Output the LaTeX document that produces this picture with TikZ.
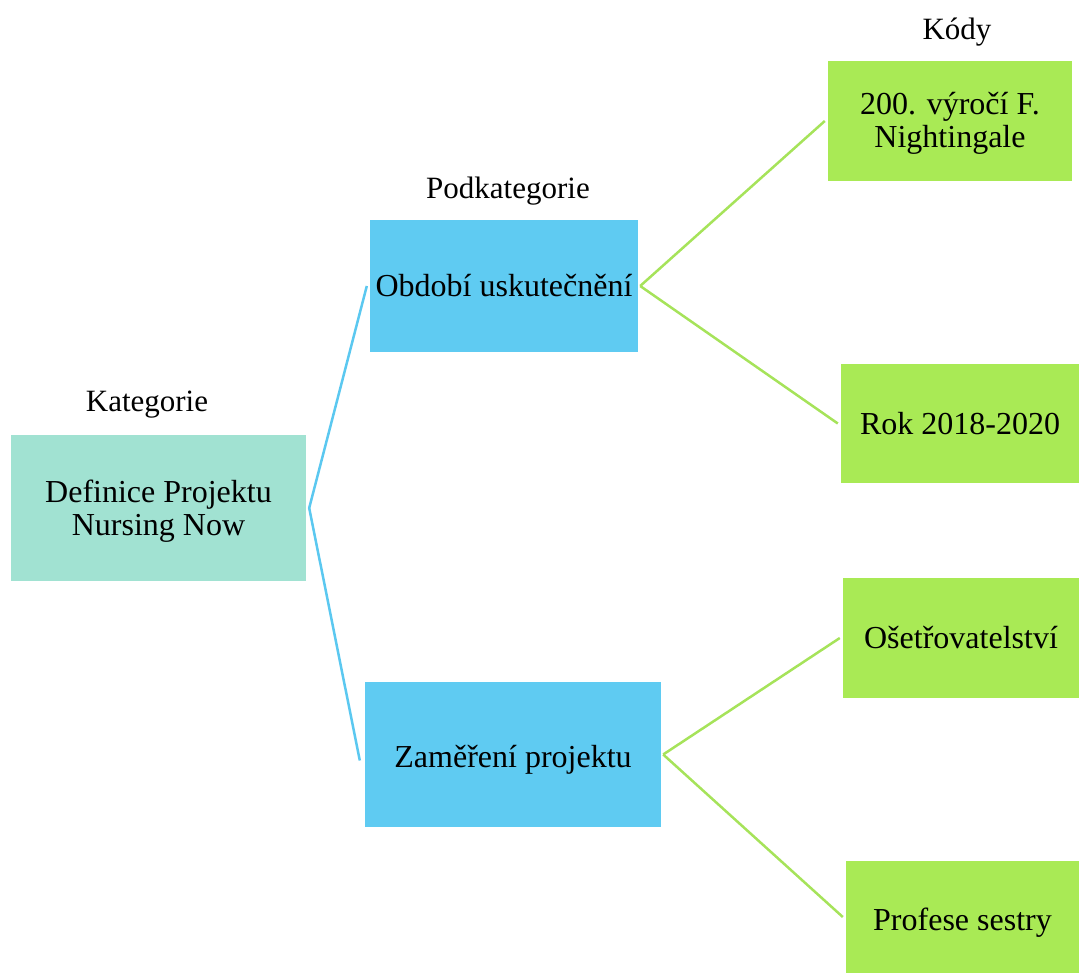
\documentclass[tikz,border=0pt]{standalone}
\usepackage{fontspec}
\setmainfont{Liberation Serif}
\definecolor{katfill}{HTML}{A1E2D2}
\definecolor{podfill}{HTML}{5FCBF2}
\definecolor{kodfill}{HTML}{A9EA55}
\definecolor{blueline}{HTML}{5BC8F0}
\definecolor{greenline}{HTML}{A6E35A}
\newcommand{\lowerby}[2]{\raisebox{-#1}[\height][\depth]{#2}}
\tikzset{
  box/.style={rectangle, inner sep=0pt, align=center, font=\fontsize{32}{34}\selectfont},
  katbox/.style={box, fill=katfill},
  podbox/.style={box, fill=podfill},
  kodbox/.style={box, fill=kodfill},
  hdr/.style={anchor=base, inner sep=0pt, font=\fontsize{31}{34}\selectfont},
  bconn/.style={draw=blueline, line width=2.5pt},
  gconn/.style={draw=greenline, line width=2.5pt},
}
\begin{document}
\begin{tikzpicture}[x=1pt,y=-1pt]
\useasboundingbox (0,0) rectangle (1079,973);
% headers
\node[hdr] (hkat) at (147,412) {Kategorie};
\node[hdr] (hpod) at (508,199) {Podkategorie};
\node[hdr] (hkod) at (957,40) {Kódy};
% boxes
\node[katbox, minimum width=295pt, minimum height=146pt] (kat) at (158.5,508) {\lowerby{4pt}{\begin{tabular}{@{}c@{}}Definice Projektu\\[-1pt]Nursing Now\end{tabular}}};
\node[podbox, minimum width=268pt, minimum height=132pt] (ob) at (504,286) {Období uskutečnění};
\node[podbox, minimum width=296pt, minimum height=145pt] (zam) at (513,754.5) {\lowerby{5pt}{Zaměření projektu}};
\node[kodbox, minimum width=244pt, minimum height=120pt] (k1) at (950,121) {\lowerby{3pt}{\begin{tabular}{@{}c@{}}200. výročí F.\\[-1pt]Nightingale\end{tabular}}};
\node[kodbox, minimum width=238pt, minimum height=119pt] (k2) at (960,423.5) {Rok 2018-2020};
\node[kodbox, minimum width=236pt, minimum height=120pt] (k3) at (961,638) {Ošetřovatelství};
\node[kodbox, minimum width=233pt, minimum height=112pt] (k4) at (962.5,917) {\lowerby{6pt}{Profese sestry}};
% connectors
\draw[bconn] ([xshift=3pt]kat.east) -- ([xshift=-3pt]ob.west);
\draw[bconn] ([xshift=3pt]kat.east) -- ([xshift=-5pt,yshift=-6pt]zam.west);
\draw[gconn] ([xshift=2pt]ob.east) -- ([xshift=-3pt]k1.west);
\draw[gconn] ([xshift=2pt]ob.east) -- ([xshift=-3pt]k2.west);
\draw[gconn] ([xshift=2pt]zam.east) -- ([xshift=-3pt]k3.west);
\draw[gconn] ([xshift=2pt]zam.east) -- ([xshift=-3pt]k4.west);
\end{tikzpicture}
\end{document}
